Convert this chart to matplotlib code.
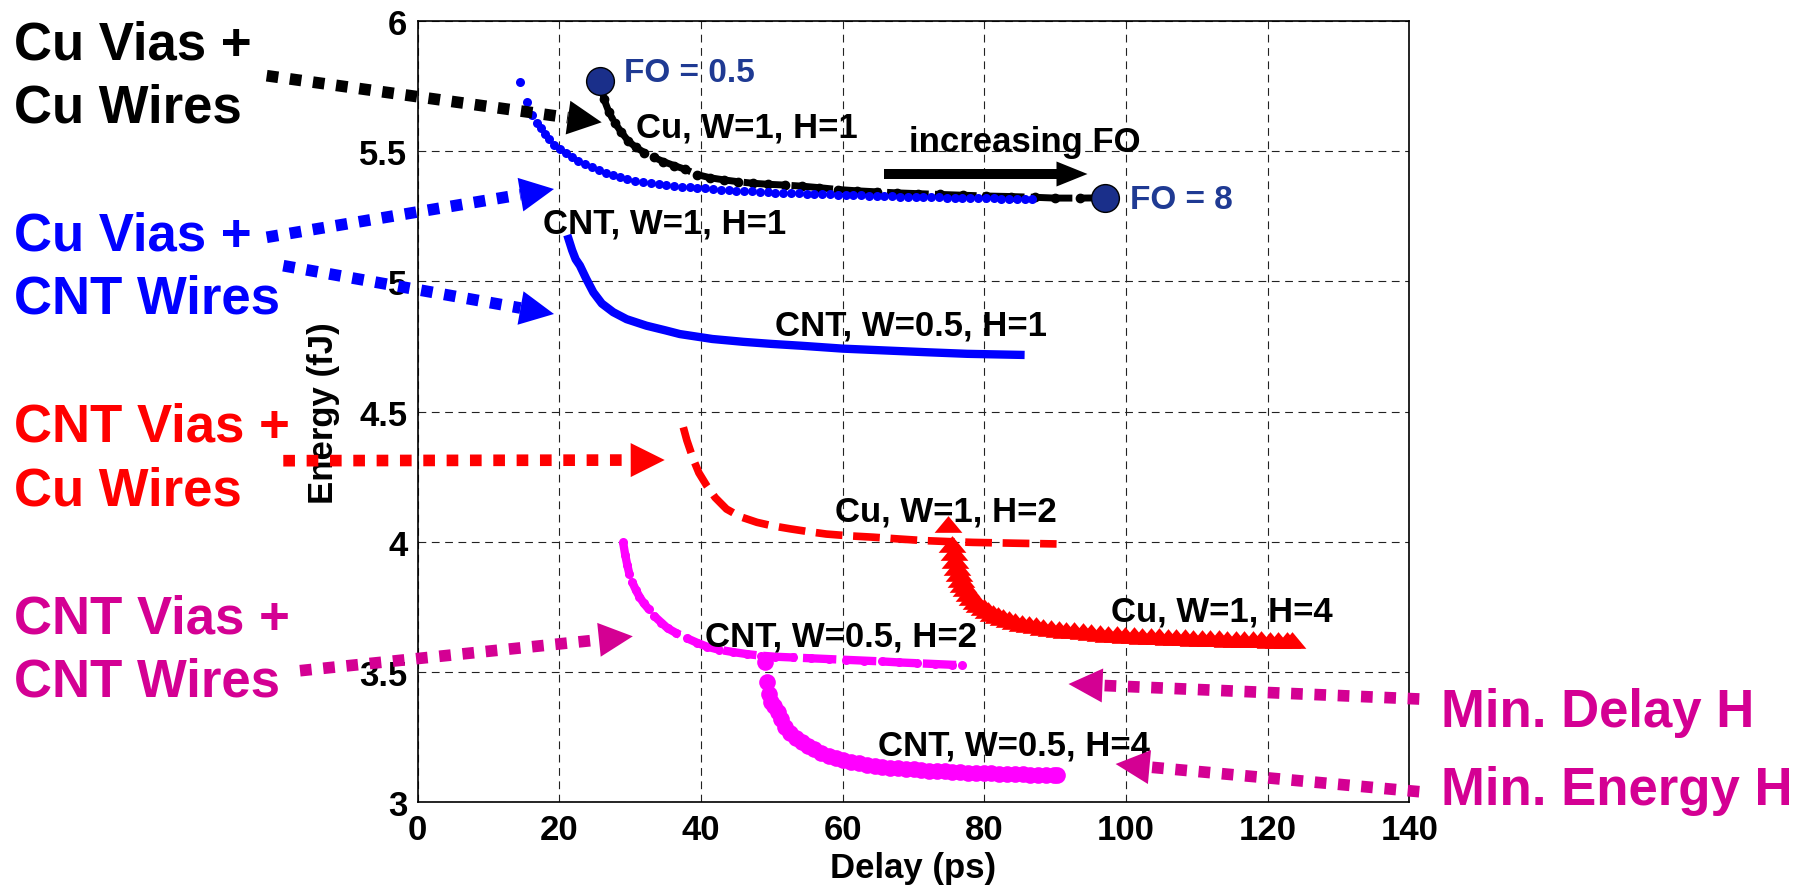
import numpy as np
import matplotlib
matplotlib.use('Agg')
import matplotlib.pyplot as plt
from matplotlib.patches import Polygon

plt.rcParams['font.family'] = ['Liberation Sans', 'DejaVu Sans']
plt.rcParams['font.weight'] = 'bold'

W, H = 1812, 895

# Cu vias + Cu wires, W=1, H=1 (black)
cu_h1_x = [25.8, 26.3, 27.0, 27.8, 28.7, 29.7, 30.8, 32.0, 33.3, 34.7,
           36.2, 37.8, 39.5, 41.3, 43.2, 45.2, 47.3, 49.5, 51.8, 54.2,
           56.7, 59.3, 62.0, 64.8, 67.7, 70.7, 73.8, 77.0, 80.3, 83.7,
           87.2, 90.0, 93.5, 97.0]
cu_h1_e = [5.77, 5.70, 5.65, 5.61, 5.575, 5.54, 5.515, 5.495, 5.477, 5.46,
           5.445, 5.43, 5.41, 5.398, 5.39, 5.383, 5.377, 5.373, 5.37, 5.366,
           5.36, 5.353, 5.348, 5.344, 5.34, 5.337, 5.334, 5.331, 5.328, 5.326,
           5.323, 5.32, 5.32, 5.321]

# Cu vias + CNT wires, W=1, H=1 (blue dots)
cnt_h1_x = [14.5, 15.5, 16.2, 16.8, 17.4, 18.0, 18.6, 19.3, 20.1, 20.9,
            21.8, 22.7, 23.6, 24.6, 25.6, 26.6, 27.6, 28.6, 29.6, 30.7,
            31.8, 32.9, 34.0, 35.1, 36.2, 37.3, 38.4, 39.5, 40.6, 41.7,
            42.8, 43.9, 45.0, 46.1, 47.2, 48.3, 49.4, 50.5, 51.6, 52.7,
            53.8, 54.9, 56.0, 57.1, 58.2, 59.3, 60.4, 61.5, 62.6, 63.7,
            64.8, 65.9, 67.0, 68.1, 69.2, 70.3, 71.4, 72.5, 73.6, 74.7,
            75.8, 76.9, 78.0, 79.1, 80.2, 81.3, 82.4, 83.5, 84.6, 85.7, 86.7]
cnt_h1_e = [5.765, 5.688, 5.640, 5.610, 5.588, 5.565, 5.545, 5.525, 5.509, 5.494,
            5.478, 5.463, 5.450, 5.438, 5.427, 5.417, 5.408, 5.400, 5.393, 5.387,
            5.382, 5.378, 5.374, 5.370, 5.367, 5.364, 5.361, 5.359, 5.357, 5.355,
            5.353, 5.351, 5.349, 5.347, 5.346, 5.344, 5.343, 5.341, 5.340, 5.339,
            5.338, 5.337, 5.336, 5.335, 5.334, 5.333, 5.332, 5.331, 5.330, 5.329,
            5.328, 5.328, 5.327, 5.326, 5.325, 5.325, 5.324, 5.323, 5.323, 5.322,
            5.321, 5.321, 5.320, 5.320, 5.319, 5.319, 5.318, 5.318, 5.317, 5.317, 5.317]

# Cu vias + CNT wires, W=0.5, H=1 (blue solid)
cnt05_h1_x = [21.3, 21.8, 22.3, 22.9, 23.8, 24.8, 26.0, 27.6, 29.5, 32.3,
              35.0, 37.0, 41.6, 46.0, 50.0, 54.2, 60.0, 66.8, 72.0, 77.6, 85.1]
cnt05_h1_e = [5.163, 5.12, 5.085, 5.061, 5.01, 4.958, 4.915, 4.882, 4.855, 4.830,
              4.812, 4.798, 4.779, 4.768, 4.760, 4.753, 4.742, 4.734, 4.728, 4.722, 4.718]

# CNT vias + Cu wires, W=1, H=2 (red dashed)
cu_h2_x = [37.5, 38.0, 38.5, 38.9, 39.7, 40.8, 42.0, 43.6, 45.5, 47.9, 50.0,
           52.6, 55.0, 57.7, 61.0, 64.3, 68.0, 71.4, 75.0, 78.4, 84.0, 90.2]
cu_h2_e = [4.440, 4.39, 4.35, 4.318, 4.265, 4.216, 4.170, 4.126, 4.097, 4.075, 4.062,
           4.050, 4.040, 4.030, 4.023, 4.018, 4.011, 4.005, 4.001, 3.998, 3.995, 3.992]

# CNT vias + Cu wires, W=1, H=4 (red triangles)
cu_h4_x = [74.9, 75.5, 75.7, 75.9, 76.1, 76.4, 76.7, 77.0, 77.4, 77.8,
           78.3, 78.8, 79.3, 79.9, 80.5, 81.2, 81.9, 82.7, 83.5, 84.4,
           85.3, 86.3, 87.3, 88.3, 89.4, 90.5, 91.6, 92.7, 93.9, 95.1,
           96.3, 97.5, 98.7, 99.9, 101.1, 102.3, 103.5, 104.7, 105.9, 107.1,
           108.3, 109.5, 110.7, 111.9, 113.1, 114.3, 115.5, 116.7, 117.9, 119.1,
           120.3, 121.5, 122.7, 123.5]
cu_h4_e = [4.069, 3.990, 3.960, 3.930, 3.905, 3.880, 3.858, 3.840, 3.822, 3.805,
           3.788, 3.773, 3.760, 3.748, 3.737, 3.727, 3.718, 3.710, 3.703, 3.696,
           3.690, 3.684, 3.679, 3.674, 3.670, 3.666, 3.663, 3.660, 3.656, 3.653,
           3.650, 3.648, 3.646, 3.644, 3.642, 3.640, 3.638, 3.637, 3.635, 3.634,
           3.633, 3.632, 3.631, 3.630, 3.629, 3.628, 3.627, 3.627, 3.626, 3.626,
           3.625, 3.625, 3.624, 3.624]

# CNT vias + CNT wires, W=0.5, H=2 (magenta dashed)
cnt_h2_x = [29.0, 29.3, 29.6, 29.9, 30.3, 30.8, 31.3, 31.9, 32.6, 33.4,
            34.4, 35.3, 36.5, 38.0, 39.5, 40.8, 42.5, 44.5, 46.5, 48.5,
            50.5, 53.0, 55.5, 58.0, 60.5, 63.0, 65.5, 68.0, 70.5, 73.0,
            75.5, 76.8]
cnt_h2_e = [3.998, 3.950, 3.910, 3.875, 3.845, 3.815, 3.790, 3.765, 3.742, 3.715,
            3.690, 3.668, 3.650, 3.630, 3.612, 3.598, 3.586, 3.577, 3.569, 3.563,
            3.559, 3.556, 3.553, 3.550, 3.547, 3.544, 3.541, 3.537, 3.534, 3.531,
            3.528, 3.527]

# CNT vias + CNT wires, W=0.5, H=4 (magenta big dots)
cnt_h4_x = [49.0, 49.3, 49.6, 49.9, 50.3, 50.8, 51.3, 51.9, 52.6, 53.4,
            54.2, 55.1, 56.0, 57.0, 58.0, 59.0, 60.1, 61.2, 62.3, 63.4,
            64.5, 65.6, 66.7, 67.8, 68.9, 70.0, 71.1, 72.2, 73.3, 74.4,
            75.5, 76.6, 77.7, 78.8, 79.9, 81.0, 82.1, 83.2, 84.3, 85.4,
            86.5, 87.6, 88.7, 89.8, 90.2]
cnt_h4_e = [3.540, 3.462, 3.415, 3.385, 3.370, 3.345, 3.318, 3.290, 3.265, 3.245,
            3.230, 3.215, 3.203, 3.190, 3.179, 3.170, 3.162, 3.155, 3.149, 3.144,
            3.140, 3.136, 3.133, 3.130, 3.128, 3.126, 3.124, 3.122, 3.120, 3.119,
            3.117, 3.116, 3.114, 3.113, 3.112, 3.111, 3.110, 3.109, 3.108, 3.107,
            3.106, 3.105, 3.104, 3.103, 3.103]

# fan-out end points
fo_x = [25.8, 97.0]
fo_e = [5.771, 5.321]
fo_labels = ['FO = 0.5', 'FO = 8']

xticks = [0, 20, 40, 60, 80, 100, 120, 140]
yticks = [3, 3.5, 4, 4.5, 5, 5.5, 6]
ytick_labels = ['3', '3.5', '4', '4.5', '5', '5.5', '6']

MAG = '#D40093'
NAVY = '#1F3A93'

fig = plt.figure(figsize=(W / 100, H / 100), dpi=100)
ax = fig.add_axes([417.7 / W, 1 - 803.3 / H, 991.6 / W, 781.3 / H])

ax.plot(cu_h1_x, cu_h1_e, color='k', lw=5, linestyle=(0, (6, 0.9)),
        marker='o', ms=6, zorder=3)
ax.plot(cnt_h1_x, cnt_h1_e, linestyle='none', marker='o', ms=6.5,
        color='#0000FF', mec='none', zorder=4)
ax.plot(cnt05_h1_x, cnt05_h1_e, color='#0000FF', lw=6, zorder=3)
ax.plot(cu_h2_x, cu_h2_e, color='#FF0000', lw=5.5, linestyle=(0, (3.5, 1.4)), zorder=3)
tri = [(0, 0.6), (-1, -0.6), (1, -0.6), (0, 0.6)]
ax.plot(cu_h4_x, cu_h4_e, linestyle='none', marker=tri, ms=20,
        color='#FF0000', mec='none', zorder=4)
ax.plot(cnt_h2_x, cnt_h2_e, color='#FF00FF', lw=6, linestyle=(0, (4, 0.8)),
        marker='o', ms=6.5, mec='none', zorder=3)
ax.plot(cnt_h4_x, cnt_h4_e, linestyle='none', marker='o', ms=12,
        color='#FF00FF', mec='none', zorder=4)
ax.plot(fo_x, fo_e, linestyle='none', marker='o', ms=20, mfc='#1A2F8A',
        mec='k', mew=1, zorder=5)

ax.set_xlim(0, 140)
ax.set_ylim(3, 6)
ax.set_xticks(xticks)
ax.set_yticks(yticks)
ax.set_yticklabels(ytick_labels)
ax.grid(True, color='#222222', linestyle=(0, (7, 5)), linewidth=0.8)
ax.set_axisbelow(True)
ax.tick_params(axis='both', length=0, labelsize=25)
ax.tick_params(axis='x', pad=8)
ax.tick_params(axis='y', pad=7.5)
for s in ax.spines.values():
    s.set_linewidth(1.2)
ax.set_xlabel('Delay (ps)', fontsize=25, fontweight='bold', labelpad=3)
ax.set_ylabel('Energy (fJ)', fontsize=25, fontweight='bold', labelpad=14)

# curve labels (data coords, left / baseline)
lab = dict(fontsize=25, fontweight='bold', color='k', ha='left', va='baseline', zorder=6)
ax.text(30.8, 5.555, 'Cu, W=1, H=1', **lab)
ax.text(17.65, 5.189, 'CNT, W=1, H=1', **lab)
ax.text(50.4, 4.798, 'CNT, W=0.5, H=1', **lab)
ax.text(58.9, 4.081, 'Cu, W=1, H=2', **lab)
ax.text(97.9, 3.697, 'Cu, W=1, H=4', **lab)
ax.text(40.5, 3.601, 'CNT, W=0.5, H=2', **lab)
ax.text(65.0, 3.182, 'CNT, W=0.5, H=4', **lab)
ax.text(69.35, 5.502, 'increasing FO', **lab)
ax.text(29.1, 5.771, fo_labels[0], fontsize=24, fontweight='bold', color=NAVY,
        ha='left', va='baseline')
ax.text(100.5, 5.282, fo_labels[1], fontsize=24, fontweight='bold', color=NAVY,
        ha='left', va='baseline')

# overlay in figure pixels for arrows and side labels
ov = fig.add_axes([0, 0, 1, 1])
ov.set_xlim(0, W)
ov.set_ylim(H, 0)
ov.axis('off')


def arrow(x0, y0, x1, y1, color, dotted=True, lw=8.4, hl=34, hw=17):
    d = np.array([x1 - x0, y1 - y0], dtype=float)
    u = d / np.hypot(*d)
    n = np.array([-u[1], u[0]])
    bx, by = np.array([x1, y1]) - u * hl
    ls = (0, (1, 1)) if dotted else '-'
    ov.plot([x0, bx], [y0, by], color=color, lw=lw, linestyle=ls,
            dash_capstyle='butt', solid_capstyle='butt')
    pts = [[x1, y1], [bx + n[0] * hw, by + n[1] * hw], [bx - n[0] * hw, by - n[1] * hw]]
    ov.add_patch(Polygon(pts, closed=True, facecolor=color, edgecolor='none'))


arrow(266.7, 76.7, 601.7, 123.3, 'k')
arrow(266.7, 238.3, 554, 190, '#0000FF')
arrow(283.3, 266.7, 554, 315, '#0000FF')
arrow(283.3, 461.7, 664.7, 461, '#FF0000')
arrow(300, 671.7, 632.8, 637.3, MAG)
arrow(1419.3, 700, 1068.5, 685, MAG)
arrow(1419.3, 792.7, 1115.6, 765, MAG)
arrow(884.4, 175, 1087.5, 175, 'k', dotted=False, lw=7.2, hl=31, hw=12.5)

side = dict(fontsize=38, fontweight='bold', ha='left', va='baseline')
ov.text(14, 59.3, 'Cu Vias +', color='k', **side)
ov.text(14, 122.3, 'Cu Wires', color='k', **side)
ov.text(14, 250, 'Cu Vias +', color='#0000FF', **side)
ov.text(14, 313.3, 'CNT Wires', color='#0000FF', **side)
ov.text(14, 441.7, 'CNT Vias +', color='#FF0000', **side)
ov.text(14, 506, 'Cu Wires', color='#FF0000', **side)
ov.text(14, 633.3, 'CNT Vias +', color=MAG, **side)
ov.text(14, 696.7, 'CNT Wires', color=MAG, **side)
ov.text(1441, 726.7, 'Min. Delay H', color=MAG, **side)
ov.text(1441, 805, 'Min. Energy H', color=MAG, **side)

fig.savefig('out.png', dpi=100)
